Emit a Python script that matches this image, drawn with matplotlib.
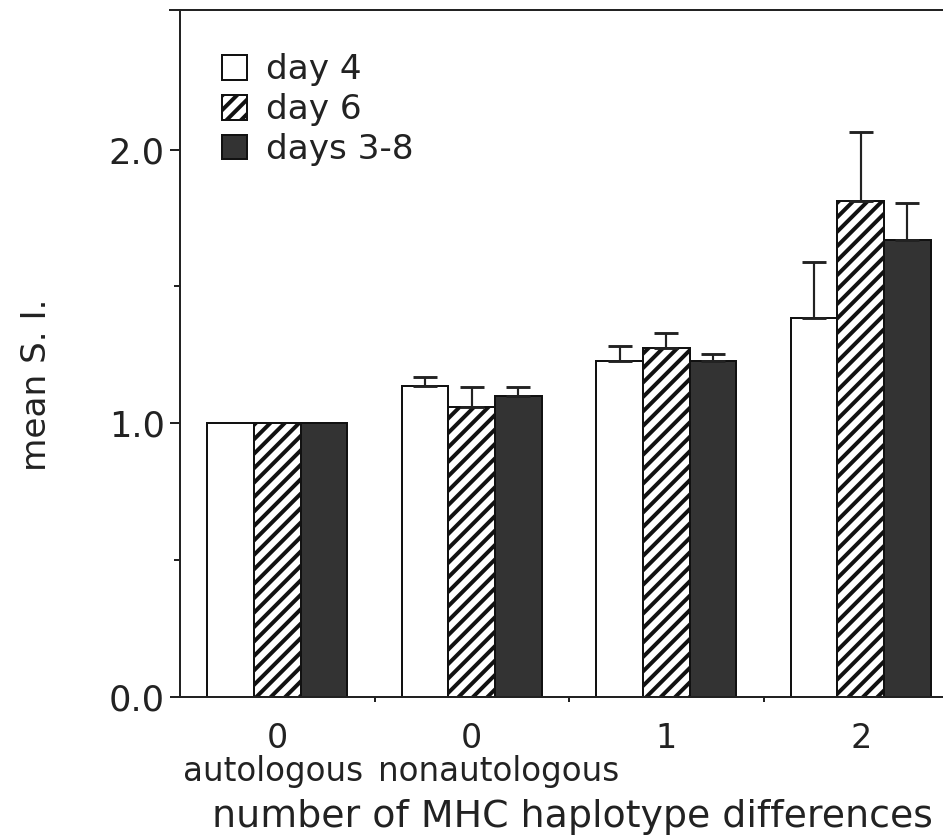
import matplotlib
matplotlib.use("Agg")
import matplotlib.pyplot as plt
import numpy as np

# Mean S.I. per group, one list per culture day
group_digits = ["0", "0", "1", "2"]
group_notes = ["autologous", "nonautologous", "", ""]
series_names = ["day 4", "day 6", "days 3-8"]
day4 = [1.00, 1.138, 1.226, 1.385]
day6 = [1.00, 1.058, 1.275, 1.811]
days3_8 = [1.00, 1.099, 1.228, 1.671]
# upper error only
day4_err = [0.0, 0.031, 0.055, 0.203]
day6_err = [0.0, 0.073, 0.055, 0.253]
days3_8_err = [0.0, 0.032, 0.025, 0.134]

dpi = 130
plt.rcParams['font.family'] = ['DejaVu Sans']
plt.rcParams['hatch.linewidth'] = 2.2
plt.rcParams['text.color'] = '#222222'
plt.rcParams['axes.labelcolor'] = '#222222'
plt.rcParams['xtick.color'] = '#222222'
plt.rcParams['ytick.color'] = '#222222'

fig = plt.figure(figsize=(943 / dpi, 839 / dpi), dpi=dpi)
ax = fig.add_axes([180 / 943, 142 / 839, 763 / 943, 687 / 839])

values = [day4, day6, days3_8]
errors = [day4_err, day6_err, days3_8_err]
faces = ['white', 'white', '#333333']
hatches = [None, '///', None]
width = 0.24
centers = np.arange(len(group_digits)) + 0.5

for k in range(3):
    xs = centers + (k - 1) * width
    ax.bar(xs, values[k], width, color=faces[k], edgecolor='#111111', linewidth=1.1,
           hatch=hatches[k], label=series_names[k], zorder=2)
    err = np.array(errors[k])
    keep = err > 0
    ax.errorbar(xs[keep], np.array(values[k])[keep],
                yerr=[np.zeros(keep.sum()), err[keep]], fmt='none',
                ecolor='#222222', elinewidth=1.2, capsize=6.5, capthick=1.6, zorder=3)

ax.set_xlim(0, 763 / 194.5)
ax.set_ylim(0, 2.51)

# spines: left, bottom, top only
ax.spines['right'].set_visible(False)
for s in ['left', 'bottom', 'top']:
    ax.spines[s].set_linewidth(1.1)
    ax.spines[s].set_color('#222222')
ax.spines['top'].set_bounds(-0.05, 763 / 194.5)

ax.set_yticks([0.0, 1.0, 2.0])
ax.set_yticklabels(['0.0', '1.0', '2.0'])
ax.set_yticks([0.5, 1.5], minor=True)
ax.tick_params(axis='y', which='major', length=5.5, width=1.1, pad=3, labelsize=19.5, direction='out')
ax.tick_params(axis='y', which='minor', length=3.3, width=1.1, direction='out')

# small ticks between groups, digits centred under groups
ax.set_xticks([1, 2, 3])
ax.set_xticklabels([])
ax.set_xticks(centers, minor=True)
ax.set_xticklabels(group_digits, minor=True, fontsize=18.5)
ax.tick_params(axis='x', which='major', length=3, width=1.1, direction='out')
ax.tick_params(axis='x', which='minor', length=0, pad=14)

# second line under the two zero groups
ax.text(centers[0] - 0.02, -0.109, group_notes[0], transform=ax.get_xaxis_transform(),
        ha='center', va='center', fontsize=18)
ax.text(1.02, -0.109, group_notes[1], transform=ax.get_xaxis_transform(),
        ha='left', va='center', fontsize=18)

ax.set_xlabel('number of MHC haplotype differences', fontsize=21)
ax.xaxis.set_label_coords(0.514, -0.148)
ax.set_ylabel('mean S. I.', fontsize=19)
ax.yaxis.set_label_coords(-0.167, 0.454)

ax.legend(loc='upper left', bbox_to_anchor=(0.055, 0.937), frameon=False, fontsize=19,
          handlelength=0.73, handleheight=0.73, handletextpad=0.55, labelspacing=0.2,
          borderpad=0, borderaxespad=0)

fig.savefig('out.png', dpi=dpi)
